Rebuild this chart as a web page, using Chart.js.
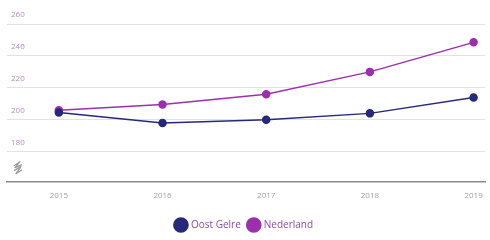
<!DOCTYPE html>
<html>
<head>
<meta charset="utf-8">
<script src="https://cdn.jsdelivr.net/npm/chart.js@4"></script>
<style>
  html, body { margin: 0; padding: 0; background: #fff; }
  #wrap { width: 490px; height: 240px; }
</style>
</head>
<body>
<div id="wrap"><canvas id="myChart"></canvas></div>
<script>
var years = [2015, 2016, 2017, 2018, 2019]
var oostGelre = [204.5, 198, 200, 204, 214]
var nederland = [206, 209.5, 216, 230, 248.5]
var yTicks = [180, 200, 220, 240, 260]

function toPoints(values) {
    return values.map(function (v, i) { return { x: years[i], y: v } })
}

// little squiggle on the y axis to show the axis is broken
var axisBreak = {
    id: 'axisBreak',
    afterDraw: function (chart) {
        var ctx = chart.ctx
        var y = chart.scales.y.getPixelForValue(170)
        var x = chart.chartArea.left + 11
        ctx.save()
        ctx.strokeStyle = '#9a9a9a'
        ctx.lineWidth = 1.2
        ctx.lineJoin = 'round'
        ctx.beginPath()
        ctx.moveTo(x - 4, y - 2)
        ctx.lineTo(x + 2, y - 6)
        ctx.lineTo(x - 3, y)
        ctx.lineTo(x + 4, y - 3)
        ctx.moveTo(x - 4, y + 3)
        ctx.lineTo(x + 3, y - 1)
        ctx.lineTo(x - 2, y + 6)
        ctx.lineTo(x + 4, y + 2)
        ctx.stroke()
        ctx.restore()
    }
}

Chart.defaults.font.family = "'Open Sans', sans-serif"

let myChart = document.getElementById('myChart').getContext('2d')
let lineChart = new Chart(myChart, {
    type: 'line',
    data: {
        datasets: [{
            label: 'Oost Gelre',
            data: toPoints(oostGelre),
            borderColor: '#26287a',
            backgroundColor: '#26287a',
            borderWidth: 1.5,
            pointRadius: 3.5,
            pointHoverRadius: 3.5
        }, {
            label: 'Nederland',
            data: toPoints(nederland),
            borderColor: '#9b2fae',
            backgroundColor: '#9b2fae',
            borderWidth: 1.5,
            pointRadius: 3.5,
            pointHoverRadius: 3.5
        }]
    },
    options: {
        responsive: true,
        maintainAspectRatio: false,
        animation: false,
        layout: { padding: { left: -1, right: 0, top: 24, bottom: 0 } },
        scales: {
            x: {
                type: 'linear',
                min: 2014.5,
                max: 2019.11,
                afterBuildTicks: function (axis) {
                    axis.ticks = years.map(function (v) { return { value: v } })
                },
                afterFit: function (axis) {
                    axis.height = 30
                },
                grid: { display: false },
                border: { display: true, color: '#8a8a8a', width: 1.5 },
                ticks: {
                    color: '#a0a0a0',
                    font: { size: 8 },
                    padding: 1,
                    maxRotation: 0,
                    callback: function (v) { return String(v) }
                }
            },
            y: {
                min: 161,
                max: 260,
                afterBuildTicks: function (axis) {
                    axis.ticks = yTicks.map(function (v) { return { value: v } })
                },
                border: { display: false },
                grid: { color: '#e2e2e2', drawTicks: false },
                ticks: {
                    mirror: true,
                    padding: 4,
                    labelOffset: -9,
                    color: '#b58ccb',
                    font: { size: 8 }
                }
            }
        },
        plugins: {
            legend: {
                position: 'bottom',
                labels: {
                    usePointStyle: true,
                    pointStyle: 'circle',
                    boxWidth: 10,
                    boxHeight: 10,
                    padding: 8,
                    color: '#8e4aa8',
                    font: { size: 10 }
                }
            },
            tooltip: { enabled: false }
        }
    },
    plugins: [axisBreak]
});
</script>
</body>
</html>
